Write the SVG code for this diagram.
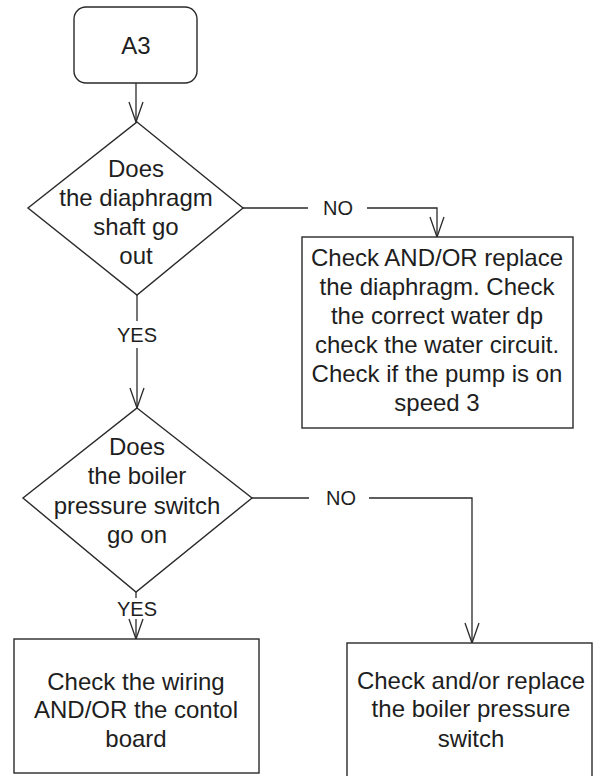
<svg xmlns="http://www.w3.org/2000/svg" width="595" height="776" viewBox="0 0 595 776">
<defs>
<style>
.shape{fill:#fff;stroke:#2a2a2a;stroke-width:1.4}
.txt{font-family:"Liberation Sans",Arial,sans-serif;font-size:24px;fill:#1e1e1e;text-anchor:middle}
.lbl{font-family:"Liberation Sans",Arial,sans-serif;font-size:20px;fill:#1e1e1e;text-anchor:middle}
.conn{fill:none;stroke:#2a2a2a;stroke-width:1.3}
</style>
<marker id="arr" markerUnits="userSpaceOnUse" markerWidth="24" markerHeight="20" viewBox="-22 -10 24 20" refX="0" refY="0" orient="auto">
<path d="M-20,-7 L0,0 L-20,7" fill="none" stroke="#2a2a2a" stroke-width="1.3"/>
</marker>
</defs>
<rect width="595" height="776" fill="#fff"/>
<g id="connectors">
<path class="conn" d="M136,83 L136,122" marker-end="url(#arr)"/>
<path class="conn" d="M243,208 L308,208"/>
<path class="conn" d="M367,208 L437,208 L437,237" marker-end="url(#arr)"/>
<path class="conn" d="M137,295 L137,321"/>
<path class="conn" d="M137,348 L137,408" marker-end="url(#arr)"/>
<path class="conn" d="M252,498 L309,498"/>
<path class="conn" d="M369,498 L472,498 L472,643" marker-end="url(#arr)"/>
<path class="conn" d="M136,592 L136,598"/>
<path class="conn" d="M136,619 L136,639" marker-end="url(#arr)"/>
<text class="lbl" x="338" y="215">NO</text>
<text class="lbl" x="137" y="342">YES</text>
<text class="lbl" x="341" y="505">NO</text>
<text class="lbl" x="137" y="616">YES</text>
</g>
<g id="start">
<rect class="shape" x="74" y="7" width="123" height="76" rx="12"/>
<text class="txt" x="136" y="54">A3</text>
</g>
<g id="decision1">
<polygon class="shape" points="137,122 243,208 137,295 28,208"/>
<text class="txt" x="136" y="177">Does</text>
<text class="txt" x="136" y="206">the diaphragm</text>
<text class="txt" x="136" y="235">shaft go</text>
<text class="txt" x="136" y="264">out</text>
</g>
<g id="action1">
<rect class="shape" x="302" y="237" width="271" height="191"/>
<text class="txt" x="437" y="266">Check AND/OR replace</text>
<text class="txt" x="437" y="295">the diaphragm. Check</text>
<text class="txt" x="437" y="324">the correct water dp</text>
<text class="txt" x="437" y="353">check the water circuit.</text>
<text class="txt" x="437" y="382">Check if the pump is on</text>
<text class="txt" x="437" y="411">speed 3</text>
</g>
<g id="decision2">
<polygon class="shape" points="137,408 252,498 136,592 23,498"/>
<text class="txt" x="137" y="455">Does</text>
<text class="txt" x="137" y="484">the boiler</text>
<text class="txt" x="137" y="514">pressure switch</text>
<text class="txt" x="137" y="543">go on</text>
</g>
<g id="action2">
<rect class="shape" x="14" y="639" width="245" height="134"/>
<text class="txt" x="136" y="690">Check the wiring</text>
<text class="txt" x="136" y="718">AND/OR the contol</text>
<text class="txt" x="136" y="747">board</text>
</g>
<g id="action3">
<rect class="shape" x="347" y="643" width="245" height="150"/>
<text class="txt" x="471" y="689">Check and/or replace</text>
<text class="txt" x="471" y="717">the boiler pressure</text>
<text class="txt" x="471" y="747">switch</text>
</g>
</svg>
